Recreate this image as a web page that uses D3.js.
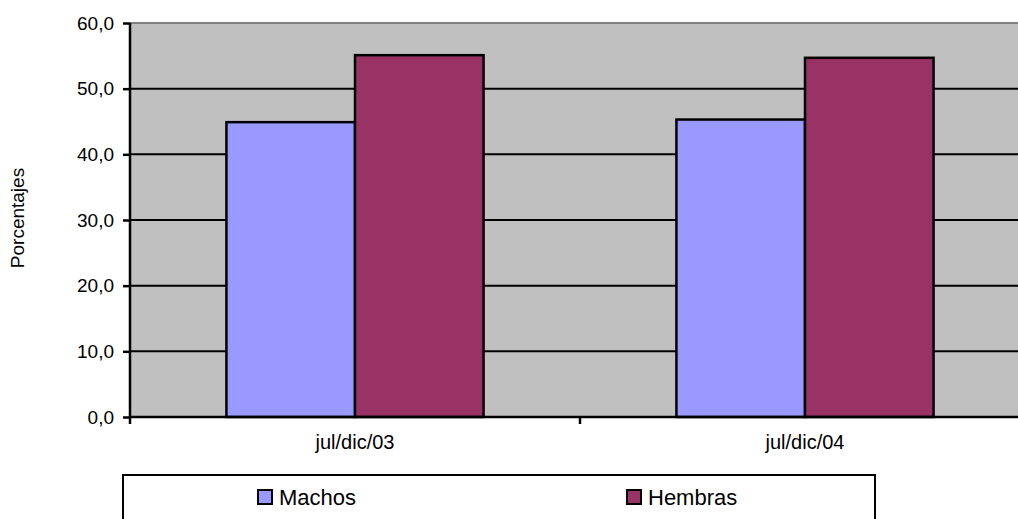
<!DOCTYPE html>
<html>
<head>
<meta charset="utf-8">
<script src="https://cdn.jsdelivr.net/npm/d3@7"></script>
<style>
  body { margin: 0; background: #fff; }
  svg text { font-family: "Liberation Sans", Arial, sans-serif; fill: #000; }
</style>
</head>
<body>
<div id="chart"></div>
<script>
    "use strict";

    var categories = ["jul/dic/03", "jul/dic/04"];
    var seriesNames = ["Machos", "Hembras"];
    var machos = [44.9, 45.3];
    var hembras = [55.1, 54.7];
    var yTicks = [0, 10, 20, 30, 40, 50, 60];
    var colors = ["#9999FF", "#993366"];

    var width = 1018, height = 519,
        margin = {top: 23, left: 130},
        plotW = 900, plotH = 394;

    var svg = d3.select("#chart").append("svg")
        .attr("width", width)
        .attr("height", height);

    var g = svg.append("g")
        .attr("transform", "translate(" + margin.left + "," + margin.top + ")");

    var x = d3.scaleBand().domain(categories).range([0, plotW]);
    var xSeries = d3.scaleBand().domain(seriesNames)
        .range([x.bandwidth() * 0.75 / 3.5, x.bandwidth() * 2.75 / 3.5]);
    var y = d3.scaleLinear().domain([0, 60]).range([plotH, 0]);

    // plot background
    g.append("rect")
        .attr("width", plotW)
        .attr("height", plotH)
        .attr("fill", "#C0C0C0");

    g.append("line")
        .attr("x1", 0).attr("x2", plotW)
        .attr("y1", 0).attr("y2", 0)
        .attr("stroke", "#808080").attr("stroke-width", 2);

    // gridlines
    g.selectAll(".grid")
        .data(yTicks.filter(function (d) { return d > 0 && d < 60; }))
        .enter().append("line")
        .attr("x1", 0).attr("x2", plotW)
        .attr("y1", function (d) { return y(d); })
        .attr("y2", function (d) { return y(d); })
        .attr("stroke", "#000").attr("stroke-width", 2);

    // bars
    var data = categories.map(function (c, i) {
        return [{cat: c, s: seriesNames[0], v: machos[i], c: colors[0]},
                {cat: c, s: seriesNames[1], v: hembras[i], c: colors[1]}];
    });
    g.selectAll(".grp")
        .data(data)
        .enter().append("g")
        .attr("transform", function (d) { return "translate(" + x(d[0].cat) + ",0)"; })
        .selectAll("rect")
        .data(function (d) { return d; })
        .enter().append("rect")
        .attr("x", function (d) { return xSeries(d.s); })
        .attr("width", xSeries.bandwidth())
        .attr("y", function (d) { return y(d.v); })
        .attr("height", function (d) { return plotH - y(d.v); })
        .attr("fill", function (d) { return d.c; })
        .attr("stroke", "#000")
        .attr("stroke-width", 2.5);

    // y axis
    var yAxis = d3.axisLeft(y).tickValues(yTicks).tickSize(7).tickPadding(9)
        .tickFormat(function (d) { return d3.format(".1f")(d).replace(".", ","); });
    var ya = g.append("g").call(yAxis);
    ya.select(".domain").attr("stroke-width", 2.5).attr("d", "M0,0V" + plotH);
    ya.selectAll(".tick line").attr("stroke-width", 2.5);
    ya.selectAll("text").attr("font-size", 19).attr("font-family", "Liberation Sans, Arial, sans-serif");

    // x axis
    var xa = g.append("g").attr("transform", "translate(0," + plotH + ")");
    xa.append("line")
        .attr("x1", 0).attr("x2", plotW)
        .attr("stroke", "#000").attr("stroke-width", 2.5);
    xa.selectAll(".xtick")
        .data([0, 1, 2])
        .enter().append("line")
        .attr("x1", function (d) { return d * x.step(); })
        .attr("x2", function (d) { return d * x.step(); })
        .attr("y1", 0).attr("y2", 7)
        .attr("stroke", "#000").attr("stroke-width", 2.5);
    xa.selectAll(".xlabel")
        .data(categories)
        .enter().append("text")
        .attr("x", function (d) { return x(d) + x.bandwidth() / 2; })
        .attr("y", 32)
        .attr("text-anchor", "middle")
        .attr("font-size", 20)
        .text(function (d) { return d; });

    // y title
    svg.append("text")
        .attr("transform", "translate(24,218) rotate(-90)")
        .attr("text-anchor", "middle")
        .attr("font-size", 19)
        .text("Porcentajes");

    // legend
    var legend = svg.append("g");
    legend.append("rect")
        .attr("x", 123).attr("y", 475)
        .attr("width", 752).attr("height", 60)
        .attr("fill", "#fff")
        .attr("stroke", "#000").attr("stroke-width", 2);
    var legendX = [258, 627];
    var items = legend.selectAll(".item")
        .data(seriesNames)
        .enter().append("g")
        .attr("transform", function (d, i) { return "translate(" + legendX[i] + ",490)"; });
    items.append("rect")
        .attr("width", 14).attr("height", 14)
        .attr("fill", function (d, i) { return colors[i]; })
        .attr("stroke", "#000").attr("stroke-width", 2);
    items.append("text")
        .attr("x", 21).attr("y", 15)
        .attr("font-size", 22)
        .text(function (d) { return d; });
</script>
</body>
</html>
